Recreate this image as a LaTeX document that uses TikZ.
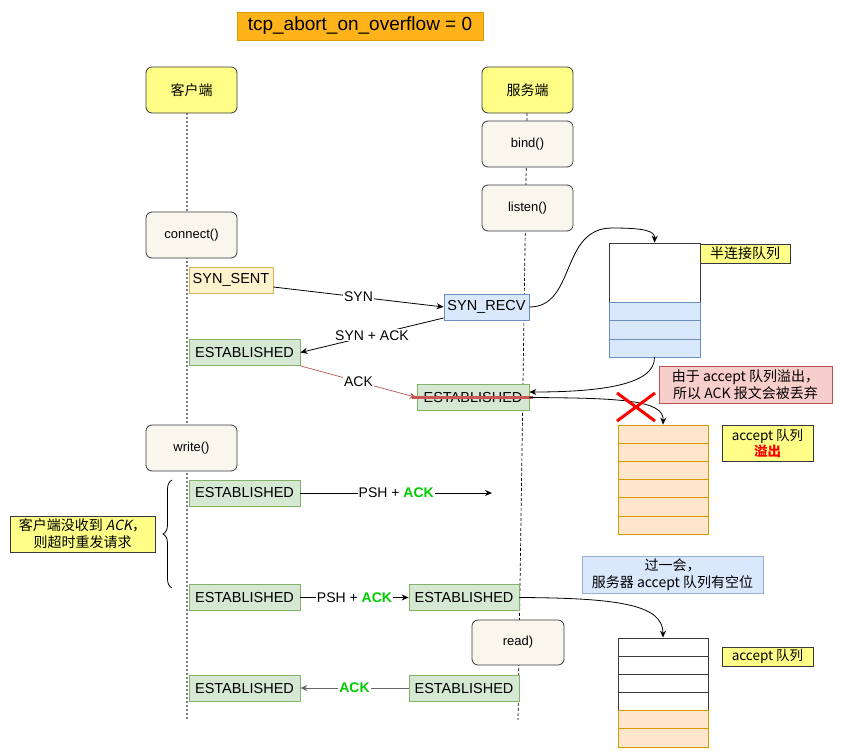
\documentclass[tikz,border=0pt]{standalone}
\usepackage{fontspec}
\setmainfont{Liberation Sans}
\newfontfamily\cjk[ItalicFont={Noto Sans CJK SC},ItalicFeatures={FakeSlant=0.2}]{Noto Sans CJK SC}
\usetikzlibrary{arrows.meta,decorations.pathreplacing}
\definecolor{cyellow}{HTML}{FFFF88}
\definecolor{cdark}{HTML}{36393D}
\definecolor{cbeige}{HTML}{F9F7ED}
\definecolor{cgreenf}{HTML}{D5E8D4}
\definecolor{cgreend}{HTML}{82B366}
\definecolor{cbluef}{HTML}{DAE8FC}
\definecolor{cblued}{HTML}{6C8EBF}
\definecolor{cyelf}{HTML}{FFF2CC}
\definecolor{cyeld}{HTML}{D6B656}
\definecolor{credf}{HTML}{F8CECC}
\definecolor{credd}{HTML}{B85450}
\definecolor{corgf}{HTML}{FFE6CC}
\definecolor{corgd}{HTML}{D79B00}
\definecolor{ctitle}{HTML}{FFB31A}
\definecolor{cgreen}{HTML}{00CC00}
\definecolor{cstrike}{HTML}{CC5555}
\begin{document}
\begin{tikzpicture}[x=1pt,y=-1pt,line width=0.8pt,
  >={Stealth[length=7pt,width=6pt]},
  base/.style={draw, inner sep=0pt, align=center},
  actor/.style={base, rounded corners=6pt, fill=cyellow, draw=cdark, minimum width=91pt, minimum height=46pt, font=\cjk\fontsize{14}{16}\selectfont},
  callbox/.style={base, rounded corners=6pt, fill=cbeige, draw=cdark, minimum width=91pt, minimum height=46pt, font=\fontsize{13}{15}\selectfont},
  state/.style={base, minimum height=26pt, font=\fontsize{14.5}{16}\selectfont},
  est/.style={state, fill=cgreenf, draw=cgreend, minimum width=111pt},
  msg/.style={fill=white, inner sep=1pt, font=\fontsize{14}{16}\selectfont},
  note/.style={base, font=\cjk\fontsize{14}{17}\selectfont},
  lifeC/.style={draw=gray, line width=1.3pt, dash pattern=on 2pt off 2pt},
  lifeS/.style={draw=black, line width=0.7pt, dash pattern=on 3pt off 2pt},
  rowO/.style={fill=corgf, draw=corgd},
  rowB/.style={fill=cbluef, draw=cblued},
  rowW/.style={fill=white, draw=cdark},
]
\useasboundingbox (0,0) rectangle (842,752);

% lifelines
\coordinate (ctop) at (187,113);
\coordinate (cbot) at (187,720);
\coordinate (stop) at (527,113);
\coordinate (sbot) at (518,720);
\draw[lifeC] (ctop) -- (cbot);
\draw[lifeS] (stop) -- (sbot);

% title
\node[base, fill=ctitle, draw=corgd, minimum width=246pt, minimum height=28pt, font=\fontsize{19}{21}\selectfont] (title) at (360,26) {tcp\_abort\_on\_overflow = 0};

% actors and calls
\node[actor] (client) at (191.5,90) {客户端};
\node[actor] (server) at (527.5,90) {服务端};
\node[callbox] (bind) at (527.5,144) {bind()};
\node[callbox] (listen) at (527.5,208) {listen()};
\node[callbox] (connect) at (191.5,235) {connect()};
\node[callbox] (write) at (191.5,448) {write()};
\node[callbox, minimum width=92pt, minimum height=45pt] (read) at (518,642.5) {read)};

% states
\node[state, fill=cyelf, draw=cyeld, minimum width=84pt] (synsent) at (231,280) {SYN\_SENT};
\node[state, fill=cbluef, draw=cblued, minimum width=85pt] (synrecv) at (486.5,307) {SYN\_RECV};
\node[est] (estc1) at (244.5,352.5) {ESTABLISHED};
\node[est, minimum width=112pt] (ests1) at (473,397.5) {ESTABLISHED};
\node[est] (estc2) at (244.5,493) {ESTABLISHED};
\node[est] (estc3) at (244.5,597.5) {ESTABLISHED};
\node[est, minimum width=110pt] (ests2) at (464,597.5) {ESTABLISHED};
\node[est] (estc4) at (244.5,688) {ESTABLISHED};
\node[est, minimum width=110pt] (ests3) at (464,688) {ESTABLISHED};

% half-connection queue
\node[draw=cdark, minimum width=91pt, minimum height=114pt, inner sep=0pt] (hq) at (654.5,300) {};
\draw[rowB] (609,302) rectangle (700,320);
\draw[rowB] (609,320) rectangle (700,339);
\draw[rowB] (609,339) rectangle (700,357);
\node[note, fill=cyellow, draw=cdark, minimum width=90pt, minimum height=19pt] (hqlbl) at (745,253.5) {半连接队列};

% accept queue (overflow)
\node[draw=corgd, minimum width=90pt, minimum height=109pt, inner sep=0pt] (aq1) at (663,479.5) {};
\draw[rowO] (618,425) rectangle (708,443);
\draw[rowO] (618,443) rectangle (708,461);
\draw[rowO] (618,461) rectangle (708,479);
\draw[rowO] (618,479) rectangle (708,497);
\draw[rowO] (618,497) rectangle (708,516);
\draw[rowO] (618,516) rectangle (708,534);
\node[note, fill=cyellow, draw=cdark, minimum width=91pt, minimum height=36pt, font=\cjk\fontsize{13.5}{16}\selectfont] (aq1lbl) at (767.5,443) {accept 队列\\\textcolor{red}{\bfseries 溢出}};

% notes
\node[note, fill=credf, draw=credd, minimum width=173pt, minimum height=37pt] (rednote) at (745.5,384.5) {由于 accept 队列溢出，\\所以 ACK 报文会被丢弃};
\node[note, fill=cyellow, draw=cdark, minimum width=145pt, minimum height=36pt] (leftnote) at (82.5,534) {客户端没收到 \textit{ACK}，\\则超时重发请求};
\node[note, fill=cbluef, draw=cblued!70, minimum width=181pt, minimum height=37pt] (bluenote) at (672.5,574.5) {过一会，\\服务器 accept 队列有空位};

% accept queue (with space)
\node[draw=cdark, minimum width=90pt, minimum height=109pt, inner sep=0pt] (aq2) at (663,692.5) {};
\draw[rowW] (618,638) rectangle (708,656);
\draw[rowW] (618,656) rectangle (708,674);
\draw[rowW] (618,674) rectangle (708,692);
\draw[rowW] (618,692) rectangle (708,710);
\draw[rowO] (618,710) rectangle (708,728);
\draw[rowO] (618,728) rectangle (708,747);
\node[note, fill=cyellow, draw=cdark, minimum width=91pt, minimum height=19pt, font=\cjk\fontsize{13.5}{16}\selectfont] (aq2lbl) at (767.5,656.5) {accept 队列};

% brace
\draw[decorate, decoration={brace, amplitude=9pt}] (172,588) -- (172,480);

% messages
\draw[->] ([yshift=-7pt]synsent.east) -- node[msg] {SYN} (synrecv.west);
\draw[->] ([yshift=-11pt]synrecv.west) -- node[msg] {SYN + ACK} (estc1.east);
\draw[->, draw=credd, line width=0.7pt] (estc1.south east) -- node[msg, text=black] {ACK} (ests1.west);
\draw[cstrike, line width=3pt] ([xshift=-5pt]ests1.west) -- ([xshift=4pt]ests1.east);
\draw[->] (ests1.east) .. controls (620,398) and (664,400) .. (aq1.north);
\draw[->] (hq.south) .. controls (655,385) and (600,392) .. ([yshift=5.5pt]ests1.east);
\draw[->] (synrecv.east) .. controls (576,307) and (560,228) .. (612,228) .. controls (645,228) and (655,231) .. (hq.north);
\draw[red, line width=3pt] (617,393) -- (655,421);
\draw[red, line width=3pt] (655,393) -- (617,421);

\coordinate (lost) at (492,493);
\draw[->] (estc2.east) -- node[msg] {PSH + \textcolor{cgreen}{\bfseries ACK}} (lost);
\draw[->] (estc3.east) -- node[msg] {PSH + \textcolor{cgreen}{\bfseries ACK}} (ests2.west);
\draw[->] (ests2.east) .. controls (620,598) and (663,605) .. (aq2.north);
\draw[->, draw=black!60] (ests3.west) -- node[msg] {\textcolor{cgreen}{\bfseries ACK}} (estc4.east);
\end{tikzpicture}
\end{document}
